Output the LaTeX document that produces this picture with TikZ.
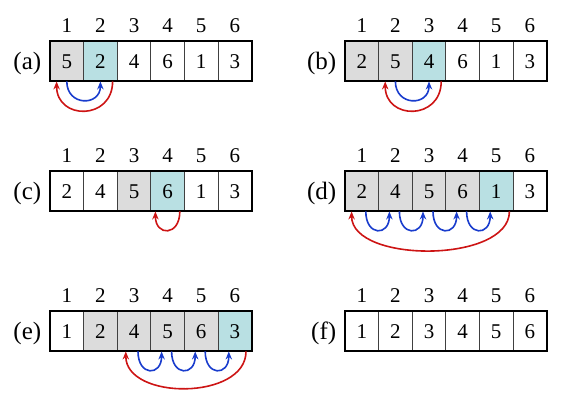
\documentclass[tikz,border=0pt]{standalone}
\usepackage{fontspec}
\setmainfont{Liberation Serif}
\newfontfamily\cellfont{Liberation Serif}
\usepackage{tikz}
\usetikzlibrary{arrows.meta,positioning}

\definecolor{cellgray}{RGB}{220,220,220}
\definecolor{cellteal}{RGB}{185,224,227}
\definecolor{arcred}{RGB}{205,20,20}
\definecolor{arcblue}{RGB}{25,60,205}

\tikzset{
  cell/.style={draw=black!75,line width=0.4pt,minimum width=16.8pt,minimum height=19.65pt,inner sep=0pt},
  keycell/.style={cell,fill=cellgray},
  curcell/.style={cell,fill=cellteal},
  frame/.style={line width=1pt},
  tag/.style={font=\cellfont\fontsize{12.5}{14}\selectfont,inner sep=0pt,yshift=-1pt},
  redarc/.style={draw=arcred,line width=0.8pt,-{Stealth[length=4pt,width=3.2pt]}},
  bluearc/.style={draw=arcblue,line width=0.8pt,-{Stealth[length=4pt,width=3.2pt]}}
}

\begin{document}
\begin{tikzpicture}[x=0.5pt,y=0.5pt,font=\cellfont\fontsize{10.5}{12}\selectfont]
\useasboundingbox (0,0) rectangle (574,401);

% (a)
\foreach \v/\s [count=\i] in {5/keycell,2/curcell,4/cell,6/cell,1/cell,3/cell} {
  \node[\s] (a\i) at ({50+(\i-0.5)*33.6},339.6) {\v};
  \node (ia\i) at ([yshift=8pt]a\i.north) {\i};
}
\draw[frame] (a1.north west) rectangle (a6.south east);
\node[tag,left=4pt of a1] (la) {(a)};
\draw[bluearc] (a1.south) .. controls +(0,-25) and +(0,-25) .. (a2.south);
\draw[redarc] ([xshift=-2.5pt]a2.south east) .. controls +(0,-39) and +(0,-39) .. ([xshift=3.5pt]a1.south west);

% (b)
\foreach \v/\s [count=\i] in {2/keycell,5/keycell,4/curcell,6/cell,1/cell,3/cell} {
  \node[\s] (b\i) at ({345+(\i-0.5)*33.6},339.6) {\v};
  \node (ib\i) at ([yshift=8pt]b\i.north) {\i};
}
\draw[frame] (b1.north west) rectangle (b6.south east);
\node[tag,left=4pt of b1] (lb) {(b)};
\draw[bluearc] (b2.south) .. controls +(0,-25) and +(0,-25) .. (b3.south);
\draw[redarc] ([xshift=-2.5pt]b3.south east) .. controls +(0,-39) and +(0,-39) .. ([xshift=3.5pt]b2.south west);

% (c)
\foreach \v/\s [count=\i] in {2/cell,4/cell,5/keycell,6/curcell,1/cell,3/cell} {
  \node[\s] (c\i) at ({50+(\i-0.5)*33.6},209.6) {\v};
  \node (ic\i) at ([yshift=8pt]c\i.north) {\i};
}
\draw[frame] (c1.north west) rectangle (c6.south east);
\node[tag,left=4pt of c1] (lc) {(c)};
\draw[redarc] ([xshift=-2.5pt]c4.south east) .. controls +(0,-25) and +(0,-25) .. ([xshift=2.5pt]c4.south west);

% (d)
\foreach \v/\s [count=\i] in {2/keycell,4/keycell,5/keycell,6/keycell,1/curcell,3/cell} {
  \node[\s] (d\i) at ({345+(\i-0.5)*33.6},209.6) {\v};
  \node (id\i) at ([yshift=8pt]d\i.north) {\i};
}
\draw[frame] (d1.north west) rectangle (d6.south east);
\node[tag,left=4pt of d1] (ld) {(d)};
\foreach \i/\j in {1/2,2/3,3/4,4/5}
  \draw[bluearc] ([xshift=2pt]d\i.south) .. controls +(0,-25) and +(0,-25) .. ([xshift=-3pt]d\j.south);
\draw[redarc] ([xshift=-2pt]d5.south east) .. controls +(0,-52) and +(0,-52) .. ([xshift=3.5pt]d1.south west);

% (e)
\foreach \v/\s [count=\i] in {1/cell,2/keycell,4/keycell,5/keycell,6/keycell,3/curcell} {
  \node[\s] (e\i) at ({50+(\i-0.5)*33.6},69.6) {\v};
  \node (ie\i) at ([yshift=8pt]e\i.north) {\i};
}
\draw[frame] (e1.north west) rectangle (e6.south east);
\node[tag,left=4pt of e1] (le) {(e)};
\foreach \i/\j in {3/4,4/5,5/6}
  \draw[bluearc] ([xshift=2pt]e\i.south) .. controls +(0,-25) and +(0,-25) .. ([xshift=-3pt]e\j.south);
\draw[redarc] ([xshift=-3pt]e6.south east) .. controls +(0,-49) and +(0,-49) .. ([xshift=4.5pt]e3.south west);

% (f)
\foreach \v [count=\i] in {1,2,3,4,5,6} {
  \node[cell] (f\i) at ({345+(\i-0.5)*33.6},69.6) {\v};
  \node (if\i) at ([yshift=8pt]f\i.north) {\i};
}
\draw[frame] (f1.north west) rectangle (f6.south east);
\node[tag,left=4pt of f1] (lf) {(f)};

\end{tikzpicture}
\end{document}
